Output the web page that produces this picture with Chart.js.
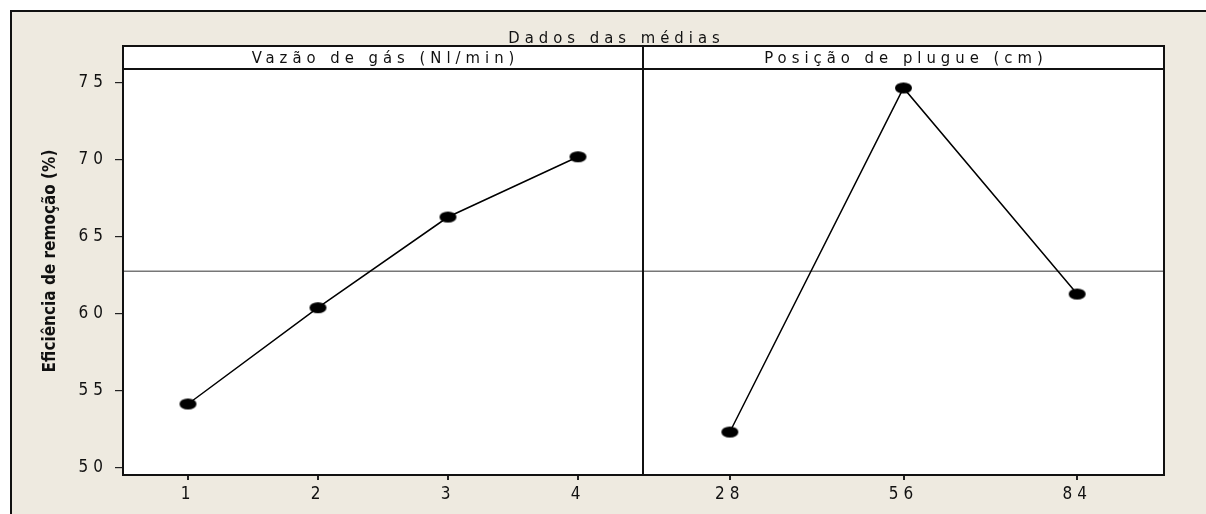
<!DOCTYPE html>
<html>
<head>
<meta charset="utf-8">
<script src="https://cdn.jsdelivr.net/npm/chart.js@4.4.0/dist/chart.umd.min.js"></script>
<style>
html,body{margin:0;padding:0;background:#fff;width:1206px;height:514px;overflow:hidden}
#frame{position:absolute;left:10px;top:10px;width:1220px;height:530px;background:#eeeae0;border-left:2px solid #111;border-top:2px solid #111}
canvas{position:absolute;left:0;top:0}
</style>
</head>
<body>
<div id="frame"></div>
<canvas id="c1" width="1206" height="514"></canvas>
<canvas id="c2" width="1206" height="514"></canvas>
<script>
/* ===== dados ===== */
const chartTitle='Dados das médias';
const yTitle='Eficiência de remoção (%)';
const gasLabel='Vazão de gás (Nl/min)';
const gasLevels=['1','2','3','4'];
const gasMeans=[54.16,60.41,66.30,70.21];
const plugLabel='Posição de plugue (cm)';
const plugLevels=['28','56','84'];
const plugMeans=[52.34,74.68,61.30];
const grandMean=62.78;
const yTicks=[50,55,60,65,70,75];
const yMin=49.55,yMax=75.91;

/* ===== layout ===== */
const FONT='"DejaVu Sans Condensed","DejaVu Sans",sans-serif';
const W=1206,H=514;
const TOP=69,BOTTOM=475,LEFT=123,SPLIT=643,RIGHT=1164,STRIP_H=23;
const SP=5; // espaçamento entre letras (estilo Minitab)
const INK='#111';

Chart.defaults.font.family=FONT;
Chart.defaults.font.size=17;
Chart.defaults.color=INK;

// marcador elíptico
const dot=document.createElement('canvas');
dot.width=19;dot.height=13;
(()=>{const c=dot.getContext('2d');c.fillStyle='#000';c.beginPath();c.ellipse(9.5,6.5,8.5,5.5,0,0,Math.PI*2);c.fill();})();

const panelPlugin={
  id:'panel',
  beforeDraw(chart){
    const {ctx,chartArea:a}=chart;
    ctx.save();
    ctx.fillStyle='#fff';
    ctx.fillRect(a.left,a.top-STRIP_H,a.right-a.left,a.bottom-a.top+STRIP_H);
    ctx.restore();
    ctx.letterSpacing=SP+'px';
  },
  beforeDatasetsDraw(chart){
    const {ctx,chartArea:a,scales:{y}}=chart;
    const py=y.getPixelForValue(grandMean);
    ctx.save();
    ctx.strokeStyle='#777';ctx.lineWidth=1.5;
    ctx.beginPath();ctx.moveTo(a.left,py);ctx.lineTo(a.right,py);ctx.stroke();
    ctx.restore();
  },
  afterDraw(chart,args,opts){
    const {ctx,chartArea:a}=chart;
    ctx.save();
    ctx.strokeStyle='#111';ctx.lineWidth=2;
    ctx.strokeRect(a.left,a.top-STRIP_H,a.right-a.left,a.bottom-a.top+STRIP_H);
    ctx.beginPath();ctx.moveTo(a.left,a.top);ctx.lineTo(a.right,a.top);ctx.stroke();
    ctx.fillStyle=INK;
    ctx.font='16.5px '+FONT;
    ctx.textAlign='center';ctx.textBaseline='alphabetic';
    ctx.letterSpacing=SP+'px';
    ctx.fillText(opts.label,(a.left+a.right)/2+SP/2,a.top-6);
    if(opts.title){
      ctx.fillText(opts.title,614+SP/2,43);
    }
    if(opts.yTitle){
      ctx.letterSpacing='0px';
      ctx.font='bold 17px '+FONT;
      ctx.translate(51,261);
      ctx.rotate(-Math.PI/2);
      ctx.textBaseline='middle';
      ctx.fillText(opts.yTitle,0,0);
    }
    ctx.restore();
    ctx.letterSpacing='0px';
  }
};

const xScale=()=>({
  type:'category',offset:true,
  afterFit:s=>{s.height=H-BOTTOM;},
  ticks:{padding:4,color:INK,font:{size:17}},
  grid:{drawOnChartArea:false,tickLength:5,color:'#222',lineWidth:2},
  border:{display:false}
});
const yScale=show=>({
  display:show,min:yMin,max:yMax,
  afterFit:s=>{s.width=show?LEFT:0;},
  afterBuildTicks:s=>{s.ticks=yTicks.map(v=>({value:v}));},
  ticks:{padding:7,color:INK,font:{size:17},includeBounds:false},
  grid:{drawOnChartArea:false,tickLength:8,color:'#222',lineWidth:1.2},
  border:{display:false}
});
const ds=data=>({
  data,borderColor:'#000',borderWidth:1.5,fill:false,tension:0,
  pointStyle:dot,pointRadius:6,pointHoverRadius:6
});

function makeChart(id,labels,data,pad,showY,panelOpts){
  return new Chart(document.getElementById(id),{
    type:'line',
    data:{labels,datasets:[ds(data)]},
    options:{
      responsive:false,animation:false,
      layout:{padding:pad},
      plugins:{legend:{display:false},tooltip:{enabled:false},panel:panelOpts},
      scales:{x:xScale(),y:yScale(showY)}
    },
    plugins:[panelPlugin]
  });
}

makeChart('c1',gasLevels,gasMeans,{top:TOP,left:0,right:W-SPLIT,bottom:0},true,
  {label:gasLabel,yTitle:yTitle});
makeChart('c2',plugLevels,plugMeans,{top:TOP,left:SPLIT,right:W-RIGHT,bottom:0},false,
  {label:plugLabel,title:chartTitle});
</script>
</body>
</html>
